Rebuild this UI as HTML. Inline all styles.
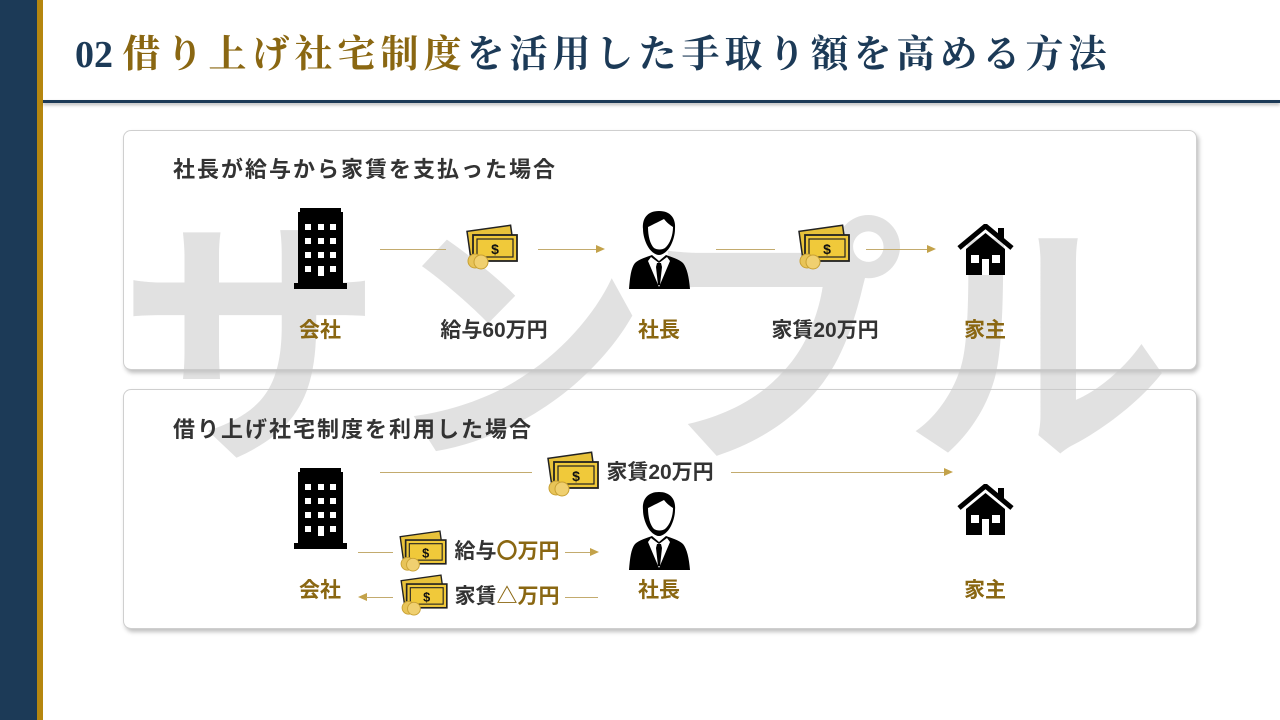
<!DOCTYPE html>
<html><head><meta charset="utf-8"><style>
*{margin:0;padding:0;box-sizing:border-box}
body{width:1280px;height:720px;background:#fff;position:relative;overflow:hidden;font-family:"Liberation Sans","Noto Sans CJK JP",sans-serif}
.abs{position:absolute}
.card{position:absolute;left:123px;width:1074px;height:240px;border:1px solid #cfcfcf;border-radius:8px;background:#fff;box-shadow:2px 3px 4px rgba(0,0,0,.25)}
.ct{position:absolute;left:173px;font-size:22px;letter-spacing:2px;font-weight:bold;color:#333;line-height:26px}
.lbl{position:absolute;font-size:21px;font-weight:bold;line-height:26px;transform:translateX(-50%);white-space:nowrap}
.g{color:#8a6712}.d{color:#333}
.ln{position:absolute;height:1px;background:#c3ab6e}
.ar{position:absolute;width:0;height:0;border-top:4px solid transparent;border-bottom:4px solid transparent}
.ar.r{border-left:9px solid #c3a24a}.ar.l{border-right:9px solid #c3a24a}
svg.i{position:absolute}
</style></head><body>
<svg width="0" height="0" style="position:absolute">
<defs>
<symbol id="bld" viewBox="0 0 53 81"><path d="M6 0h41v4h2v71h4v6H0v-6h4V4h2z" fill="#000"/><g fill="#fff"><rect x="11" y="16" width="6" height="6"/><rect x="24" y="16" width="6" height="6"/><rect x="36" y="16" width="6" height="6"/><rect x="11" y="30" width="6" height="6"/><rect x="24" y="30" width="6" height="6"/><rect x="36" y="30" width="6" height="6"/><rect x="11" y="44" width="6" height="6"/><rect x="24" y="44" width="6" height="6"/><rect x="36" y="44" width="6" height="6"/><rect x="11" y="58" width="6" height="6"/><rect x="24" y="58" width="6" height="10"/><rect x="36" y="58" width="6" height="6"/></g></symbol>
<symbol id="mon" viewBox="0 0 52 46"><g transform="rotate(-8 26 20)"><rect x="3" y="4" width="44" height="24" fill="#e8c23a" stroke="#222" stroke-width="1.5"/></g><rect x="7" y="11" width="44" height="26" fill="#f0c93a" stroke="#222" stroke-width="1.8"/><rect x="11" y="15" width="36" height="18" fill="none" stroke="#222" stroke-width="1.2"/><text x="29" y="30" font-size="14" font-weight="bold" text-anchor="middle" fill="#111" font-family="Liberation Sans">$</text><circle cx="9" cy="37" r="7" fill="#e8c458" stroke="#c9a133"/><circle cx="15" cy="38" r="7" fill="#f0d070" stroke="#c9a133"/></symbol>
<symbol id="per" viewBox="0 0 61 78"><path d="M30 0c12 0 17 8 16 18c0 6-2 12-4 16c-3 6-8 10-12 10s-9-4-12-10c-2-4-4-10-4-16C13 8 18 0 30 0z" fill="#000"/><path d="M19 16c4-2 10-5 16-8c3 4 6 6 9 8c0 8-3 17-8 21c-3 2-8 2-11 0c-4-4-6-12-6-21z" fill="#fff"/><path d="M6 52c4-4 12-6 17-8l7 6l7-6c5 2 13 4 17 8c4 5 6 14 7 26H0c1-12 2-21 6-26z" fill="#000"/><path d="M22 46l8 6l8-6l3 4l-11 26l-11-26z" fill="#fff"/><path d="M28 52h4l1 4l-2 18h-2l-2-18z" fill="#000"/></symbol>
<symbol id="hse" viewBox="0 0 57 51"><path d="M2 24L28.5 2L55 24" fill="none" stroke="#000" stroke-width="5"/><rect x="41" y="4" width="6" height="12" fill="#000"/><path d="M9 25L28.5 9L48 25v26H9z" fill="#000"/><rect x="14" y="31" width="8" height="8" fill="#fff"/><rect x="35" y="31" width="8" height="8" fill="#fff"/><rect x="25" y="35" width="7" height="16" fill="#fff"/></symbol>
</defs></svg>

<div class="abs" style="left:0;top:0;width:37px;height:720px;background:#1c3a57"></div>
<div class="abs" style="left:37px;top:0;width:6px;height:720px;background:#b5860f"></div>
<div class="abs" style="left:43px;top:100px;width:1237px;height:3px;background:#1c3a57;box-shadow:0 2px 3px rgba(0,0,0,.3)"></div>
<div class="abs" style="left:75px;top:30px;font-family:'Liberation Serif','Noto Serif CJK SC',serif;font-size:38px;line-height:50px;color:#1c3a57;white-space:nowrap;font-weight:bold"><span>02 </span><span style="color:#8a6712;letter-spacing:5px">借り上げ社宅制度</span><span style="letter-spacing:5px">を活用した手取り額を高める方法</span></div>

<div class="card" style="top:130px"></div>
<div class="card" style="top:389px"></div>

<div class="abs" style="left:118px;top:185px;font-size:265px;font-weight:bold;color:rgba(200,200,200,.55);line-height:330px;white-space:nowrap">サンプル</div>

<div class="ct" style="top:157px">社長が給与から家賃を支払った場合</div>
<svg class="i" style="left:294px;top:208px" width="53" height="81"><use href="#bld"/></svg>
<svg class="i" style="left:466px;top:224px" width="52" height="46"><use href="#mon"/></svg>
<svg class="i" style="left:629px;top:211px" width="61" height="78"><use href="#per"/></svg>
<svg class="i" style="left:798px;top:224px" width="52" height="46"><use href="#mon"/></svg>
<svg class="i" style="left:957px;top:224px" width="57" height="51"><use href="#hse"/></svg>
<div class="ln" style="left:380px;top:249px;width:66px"></div>
<div class="ln" style="left:538px;top:249px;width:60px"></div><div class="ar r" style="left:596px;top:245px"></div>
<div class="ln" style="left:716px;top:249px;width:59px"></div>
<div class="ln" style="left:866px;top:249px;width:62px"></div><div class="ar r" style="left:927px;top:245px"></div>
<div class="lbl g" style="left:320px;top:318px">会社</div>
<div class="lbl d" style="left:494px;top:318px">給与60万円</div>
<div class="lbl g" style="left:659px;top:318px">社長</div>
<div class="lbl d" style="left:825px;top:318px">家賃20万円</div>
<div class="lbl g" style="left:985px;top:318px">家主</div>

<div class="ct" style="top:417px">借り上げ社宅制度を利用した場合</div>
<svg class="i" style="left:294px;top:468px" width="53" height="81"><use href="#bld"/></svg>
<svg class="i" style="left:547px;top:451px" width="52" height="46"><use href="#mon"/></svg>
<svg class="i" style="left:629px;top:492px" width="61" height="78"><use href="#per"/></svg>
<svg class="i" style="left:957px;top:484px" width="57" height="51"><use href="#hse"/></svg>
<svg class="i" style="left:399px;top:530px" width="48" height="42"><use href="#mon"/></svg>
<svg class="i" style="left:400px;top:574px" width="48" height="42"><use href="#mon"/></svg>
<div class="ln" style="left:380px;top:472px;width:152px"></div>
<div class="lbl d" style="left:660px;top:460px">家賃20万円</div>
<div class="ln" style="left:731px;top:472px;width:214px"></div><div class="ar r" style="left:944px;top:468px"></div>
<div class="ln" style="left:358px;top:552px;width:35px"></div>
<div class="lbl" style="left:507px;top:539px"><span class="d">給与</span><span class="g">〇万円</span></div>
<div class="ln" style="left:565px;top:552px;width:26px"></div><div class="ar r" style="left:590px;top:548px"></div>
<div class="ar l" style="left:358px;top:593px"></div><div class="ln" style="left:366px;top:597px;width:27px"></div>
<div class="lbl" style="left:507px;top:584px"><span class="d">家賃</span><span class="g">△万円</span></div>
<div class="ln" style="left:565px;top:597px;width:33px"></div>
<div class="lbl g" style="left:320px;top:578px">会社</div>
<div class="lbl g" style="left:659px;top:578px">社長</div>
<div class="lbl g" style="left:985px;top:578px">家主</div>
</body></html>
